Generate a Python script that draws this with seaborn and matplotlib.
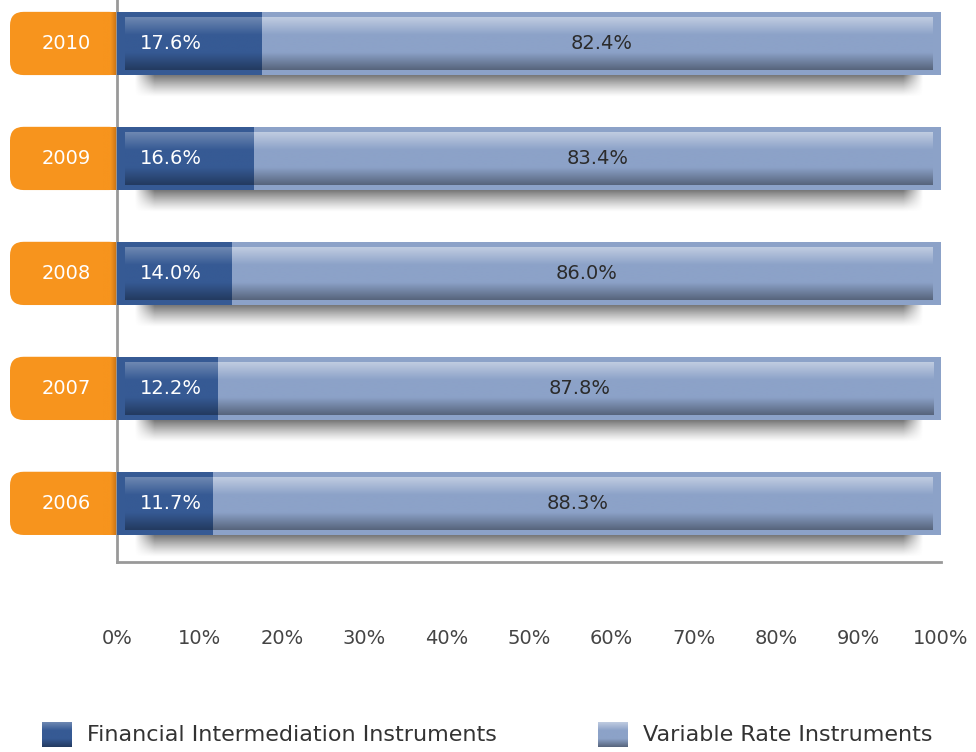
import numpy as np
import pandas as pd
import matplotlib
matplotlib.use("Agg")
import matplotlib.pyplot as plt
import seaborn as sns
from matplotlib.patches import FancyBboxPatch
from matplotlib.colors import LinearSegmentedColormap, to_rgb

# Shares of the portfolio by year (percent)
years = ["2010", "2009", "2008", "2007", "2006"]
financial_intermediation = [17.6, 16.6, 14.0, 12.2, 11.7]
variable_rate = [82.4, 83.4, 86.0, 87.8, 88.3]
tick_values = [0, 10, 20, 30, 40, 50, 60, 70, 80, 90, 100]
series_names = ["Financial Intermediation Instruments", "Variable Rate Instruments"]

DARK = "#365a94"
LIGHT = "#8ca2c8"
ORANGE = "#f7941d"
FONT = ["DejaVu Sans"]

sns.set_theme(style="white")
plt.rcParams["font.family"] = FONT

df = pd.DataFrame({
    "year": years,
    "fin": financial_intermediation,
    "var": variable_rate,
})
df["total"] = df["fin"] + df["var"]

fig = plt.figure(figsize=(9.76, 7.52), dpi=100)
W, H = 976, 752
ax = fig.add_axes([117 / W, 1 - 562 / H, 824 / W, 562 / H])

bar_w = 0.55
# stacked: full-length bar in light, financial share on top of it in dark
sns.barplot(data=df, y="year", x="total", order=years, color=LIGHT,
            width=bar_w, saturation=1, ax=ax, orient="h", zorder=3,
            linewidth=0, edgecolor="none")
sns.barplot(data=df, y="year", x="fin", order=years, color=DARK,
            width=bar_w, saturation=1, ax=ax, orient="h", zorder=4,
            linewidth=0, edgecolor="none")

ax.set_xlim(0, 100)
ax.set_ylim(4.51, -0.378)
ax.set_xlabel("")
ax.set_ylabel("")
ax.set_yticks([])
ax.set_xticks(tick_values)
ax.set_xticklabels([f"{v}%" for v in tick_values], fontsize=14, color="#444444")
ax.tick_params(axis="x", length=0, pad=48)
for side in ["top", "right"]:
    ax.spines[side].set_visible(False)
for side in ["left", "bottom"]:
    ax.spines[side].set_color("#999999")
    ax.spines[side].set_linewidth(2)
    ax.spines[side].set_zorder(2)


def grad_cmap(base, top_mix, bot_mix):
    b = np.array(to_rgb(base))
    top = b + (1 - b) * top_mix
    bot = b * (1 - bot_mix)
    return LinearSegmentedColormap.from_list("g", [top, b, b, bot], N=256)


cmaps = {DARK: grad_cmap(DARK, 0.28, 0.35), LIGHT: grad_cmap(LIGHT, 0.45, 0.38)}
vgrad = np.linspace(0, 1, 128).reshape(-1, 1)

# soft drop shadow profile
yy = np.linspace(0, 1, 40).reshape(-1, 1)
xx = np.linspace(0, 1, 200).reshape(1, -1)
shadow = np.zeros((40, 200, 4))
shadow[..., :3] = 0.33
shadow[..., 3] = 0.8 * (1 - yy) ** 1.2 * np.clip(np.minimum(xx, 1 - xx) / 0.025, 0, 1)

# glossy inner fill, shadow and value labels for each bar
inset_y = 0.045
inset_x = 1.0
for i, (f, v) in enumerate(zip(financial_intermediation, variable_rate)):
    y0, y1 = i - bar_w / 2, i + bar_w / 2
    segments = [(0, f, DARK), (f, f + v, LIGHT)]
    for a, b, col in segments:
        xa = a + (inset_x if a == 0 else 0)
        xb = b - (inset_x if b >= 99.9 else 0)
        ax.imshow(vgrad, aspect="auto", cmap=cmaps[col],
                  extent=(xa, xb, y1 - inset_y, y0 + inset_y),
                  zorder=5, interpolation="bilinear")
    ax.imshow(shadow, aspect="auto", extent=(2.0, 98.0, y1 + 0.19, y1),
              zorder=2.5, interpolation="bilinear")
    ax.text(2.8, i, f"{f:.1f}%", color="white", fontsize=14,
            va="center", ha="left", zorder=6)
    ax.text(f + v / 2, i, f"{v:.1f}%", color="#2b2b2b", fontsize=14,
            va="center", ha="center", zorder=6)

ax.set_xlim(0, 100)
ax.set_ylim(4.51, -0.378)

# orange year tabs to the left of each bar
fig.canvas.draw()
orange_cmap = LinearSegmentedColormap.from_list("o", [ORANGE, ORANGE, "#c06c12"])
for i, yr in enumerate(years):
    (_, py0) = ax.transData.transform((0, i + bar_w / 2))
    (px_axis, py1) = ax.transData.transform((0, i - bar_w / 2))
    left_px = 10
    tab = FancyBboxPatch((left_px / W, py0 / H), (px_axis + 6 - left_px) / W,
                         (py1 - py0) / H,
                         boxstyle="round,pad=0,rounding_size=0.014",
                         transform=fig.transFigure, facecolor=ORANGE,
                         edgecolor="none", zorder=1, mutation_aspect=W / H)
    fig.patches.append(tab)
    sax = fig.add_axes([(px_axis - 14) / W, py0 / H, 14 / W, (py1 - py0) / H],
                       zorder=1.5)
    sax.imshow(np.linspace(0, 1, 64).reshape(1, -1), aspect="auto",
               cmap=orange_cmap, extent=(0, 1, 0, 1))
    sax.set_axis_off()
    fig.text((left_px + px_axis + 6) / 2 / W, (py0 + py1) / 2 / H, yr,
             color="white", fontsize=14, ha="center", va="center")

ax.set_zorder(2)
ax.patch.set_alpha(0)


# legend
def legend_square(x_px, col):
    cax = fig.add_axes([x_px / W, 1 - 747 / H, 30 / W, 25 / H])
    cax.imshow(vgrad, aspect="auto", cmap=cmaps[col], extent=(0, 1, 0, 1),
               interpolation="bilinear")
    cax.set_axis_off()


legend_square(42, DARK)
legend_square(598, LIGHT)
fig.text(87 / W, 1 - 735 / H, series_names[0], fontsize=16,
         color="#333333", va="center", ha="left")
fig.text(643 / W, 1 - 735 / H, series_names[1], fontsize=16,
         color="#333333", va="center", ha="left")

fig.savefig("out.png", dpi=100)
